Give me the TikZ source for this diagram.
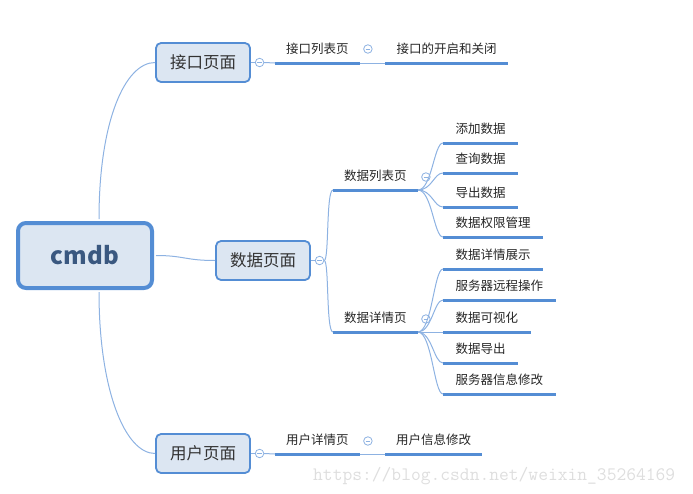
\documentclass[tikz,border=0pt]{standalone}
\usepackage{fontspec}
\newfontfamily\cjk{Noto Sans CJK SC}
\usetikzlibrary{positioning}
\definecolor{mapblue}{RGB}{84,141,212}
\definecolor{mapfill}{RGB}{220,230,242}
\definecolor{maplink}{RGB}{141,178,226}
\definecolor{maptext}{RGB}{50,50,50}
\definecolor{roottext}{RGB}{58,88,128}
\definecolor{markgray}{RGB}{222,222,222}

\begin{document}
\begin{tikzpicture}[x=1pt, y=-1pt,
    root/.style={draw=mapblue, line width=4pt, fill=mapfill, rounded corners=8pt,
        minimum width=134pt, minimum height=65pt, text=roottext,
        font=\cjk\bfseries\fontsize{24}{28}\selectfont},
    topic/.style={draw=mapblue, line width=1.8pt, fill=mapfill, rounded corners=5pt,
        minimum width=94pt, minimum height=39pt, text=maptext,
        font=\cjk\fontsize{16.5}{20}\selectfont},
    leaf/.style={anchor=south west, inner xsep=12.5pt, inner ysep=7.5pt,
        text height=10pt, text depth=2pt, text=black!85,
        font=\cjk\fontsize{12.5}{15}\selectfont},
    sub/.style={leaf, inner xsep=11pt},
    uline/.style={mapblue, line width=3pt},
    link/.style={maplink, line width=1pt},
    fold/.style={circle, draw=maplink, line width=0.8pt, fill=white,
        minimum size=8.5pt, inner sep=0pt,
        path picture={\draw[maplink, line width=0.8pt]
            ([xshift=-2.3pt]path picture bounding box.center) --
            ([xshift=2.3pt]path picture bounding box.center);}}]
    \useasboundingbox (0,0) rectangle (693,493);

    \node[root] (cmdb) at (85,255.5) {cmdb};
    \node[topic] (jiekou) at (203,62.5) {接口页面};
    \node[topic] (shuju) at (263,260.5) {数据页面};
    \node[topic] (yonghu) at (203,453.5) {用户页面};
    \node[fold, right=4pt of jiekou] (fjiekou) {};
    \node[fold, right=4pt of shuju] (fshuju) {};
    \node[fold, right=4pt of yonghu] (fyonghu) {};

    \draw[link, shorten <=2pt] ([xshift=14pt]cmdb.north) .. controls +(0,-100) and +(-30,0) .. (jiekou.west);
    \draw[link, shorten <=2pt] (cmdb.east) .. controls +(30,0) and +(-30,0) .. (shuju.west);
    \draw[link, shorten <=2pt] ([xshift=14pt]cmdb.south) .. controls +(0,100) and +(-30,0) .. (yonghu.west);
    \draw[link] (jiekou.east) -- (fjiekou.west);
    \draw[link] (shuju.east) -- (fshuju.west);
    \draw[link] (yonghu.east) -- (fyonghu.west);

    % 接口页面
    \node[sub] (jklist) at (275,63) {接口列表页};
    \node[sub, minimum width=123pt] (jkswitch) at (385,63) {接口的开启和关闭};
    \node[fold] (fjklist) at ([xshift=8pt,yshift=14pt]jklist.south east) {};
    \draw[link] (fjiekou.east) -- (jklist.south west);
    \draw[link] (jklist.south east) -- (jkswitch.south west);
    \draw[uline] (jklist.south west) -- (jklist.south east);
    \draw[uline] (jkswitch.south west) -- (jkswitch.south east);

    % 数据页面
    \node[sub] (sjlist) at (333,190) {数据列表页};
    \node[sub] (sjdetail) at (333,332) {数据详情页};
    \node[fold] (fsjlist) at ([xshift=8pt,yshift=13pt]sjlist.south east) {};
    \node[fold] (fsjdetail) at ([xshift=8pt,yshift=13pt]sjdetail.south east) {};
    \draw[link] (fshuju.east) .. controls +(5,0) and +(-7,0) .. (sjlist.south west);
    \draw[link] (fshuju.east) .. controls +(5,0) and +(-7,0) .. (sjdetail.south west);

    \node[leaf] (add) at (443,143) {添加数据};
    \node[leaf] (query) at (443,173) {查询数据};
    \node[leaf] (export) at (443,207) {导出数据};
    \node[leaf] (perm) at (443,237) {数据权限管理};
    \draw[link] (sjlist.south east) .. controls +(14,0) and +(-9,0) .. (add.south west);
    \draw[link] (sjlist.south east) .. controls +(14,0) and +(-9,0) .. (query.south west);
    \draw[link] (sjlist.south east) .. controls +(14,0) and +(-9,0) .. (export.south west);
    \draw[link] (sjlist.south east) .. controls +(14,0) and +(-9,0) .. (perm.south west);

    \node[leaf] (show) at (443,269) {数据详情展示};
    \node[leaf] (remote) at (443,300) {服务器远程操作};
    \node[leaf] (visual) at (443,332) {数据可视化};
    \node[leaf] (dump) at (443,363) {数据导出};
    \node[leaf] (edit) at (443,394) {服务器信息修改};
    \draw[link] (sjdetail.south east) .. controls +(14,0) and +(-9,0) .. (show.south west);
    \draw[link] (sjdetail.south east) .. controls +(14,0) and +(-9,0) .. (remote.south west);
    \draw[link] (sjdetail.south east) -- (visual.south west);
    \draw[link] (sjdetail.south east) .. controls +(14,0) and +(-9,0) .. (dump.south west);
    \draw[link] (sjdetail.south east) .. controls +(14,0) and +(-9,0) .. (edit.south west);

    \draw[uline] (sjlist.south west) -- (sjlist.south east);
    \draw[uline] (sjdetail.south west) -- (sjdetail.south east);
    \draw[uline] (add.south west) -- (add.south east);
    \draw[uline] (query.south west) -- (query.south east);
    \draw[uline] (export.south west) -- (export.south east);
    \draw[uline] (perm.south west) -- (perm.south east);
    \draw[uline] (show.south west) -- (show.south east);
    \draw[uline] (remote.south west) -- (remote.south east);
    \draw[uline] (visual.south west) -- (visual.south east);
    \draw[uline] (dump.south west) -- (dump.south east);
    \draw[uline] (edit.south west) -- (edit.south east);

    % 用户页面
    \node[sub] (yhdetail) at (275,454) {用户详情页};
    \node[sub] (yhedit) at (385,454) {用户信息修改};
    \node[fold] (fyhdetail) at ([xshift=8pt,yshift=13pt]yhdetail.south east) {};
    \draw[link] (fyonghu.east) -- (yhdetail.south west);
    \draw[link] (yhdetail.south east) -- (yhedit.south west);
    \draw[uline] (yhdetail.south west) -- (yhdetail.south east);
    \draw[uline] (yhedit.south west) -- (yhedit.south east);

    \node[anchor=base west, inner sep=0pt, text=markgray,
        font=\ttfamily\fontsize{19}{19}\selectfont] (mark) at (313,480)
        {https://blog.csdn.net/weixin\_35264169};
\end{tikzpicture}
\end{document}
